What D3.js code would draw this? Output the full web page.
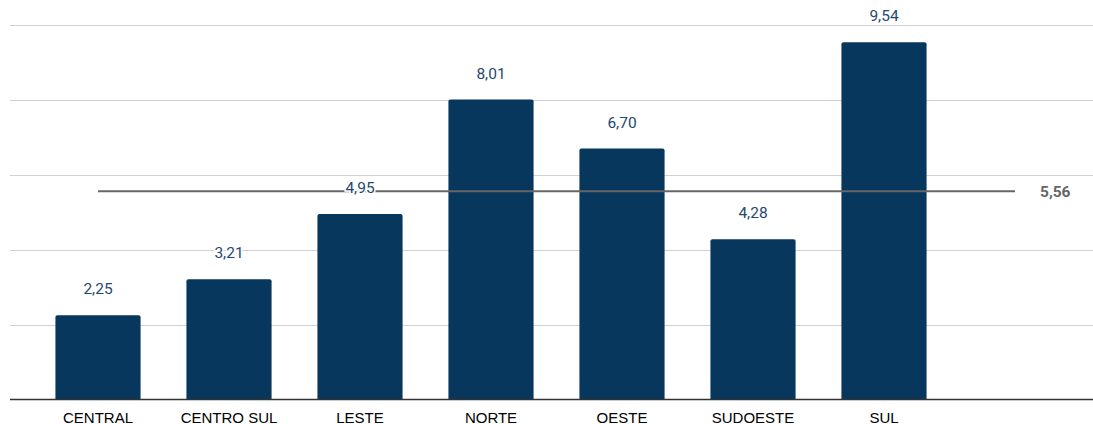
<!DOCTYPE html>
<html><head><meta charset="utf-8">
<script src="https://cdn.jsdelivr.net/npm/d3@7"></script>
<style>body{margin:0;background:#fff}svg{display:block}</style>
</head><body>
<svg id="c" width="1093" height="424"></svg>
<script>
const categories = ["CENTRAL","CENTRO SUL","LESTE","NORTE","OESTE","SUDOESTE","SUL"];
const values = [2.25, 3.21, 4.95, 8.01, 6.70, 4.28, 9.54];
const average = 5.56;
const yTicks = [0, 2, 4, 6, 8, 10];

const fmt = v => d3.format(".2f")(v).replace(".", ",");
const svg = d3.select("#c");
const slots = categories.concat(["__end"]);
const x = d3.scaleBand().domain(slots).range([32.5, 1080.5]).paddingInner(0.35).paddingOuter(0.175);
const y = d3.scaleLinear().domain([0, 10]).range([399.5, 25]);

// gridlines
svg.append("g").selectAll("line").data(yTicks.filter(d => d > 0)).join("line")
  .attr("x1", 10).attr("x2", 1093)
  .attr("y1", d => Math.round(y(d)) + 0.5).attr("y2", d => Math.round(y(d)) + 0.5)
  .attr("stroke", "#d0d0d0").attr("stroke-width", 1);

// bars
svg.append("g").selectAll("path").data(values).join("path")
  .attr("fill", "#08375e")
  .attr("d", (d, i) => {
    const x0 = x(categories[i]), w = x.bandwidth(), y0 = y(d), h = y(0) - y(d), r = 2;
    return `M${x0},${y0 + h}V${y0 + r}Q${x0},${y0} ${x0 + r},${y0}H${x0 + w - r}Q${x0 + w},${y0} ${x0 + w},${y0 + r}V${y0 + h}Z`;
  });

// baseline axis
const xAxis = d3.axisBottom(x).tickSize(0).tickFormat(d => d === "__end" ? "" : d);
const ax = svg.append("g").attr("transform", `translate(0,${y(0)})`).call(xAxis);
ax.select(".domain").remove();
ax.selectAll("text").attr("dy", null).attr("y", 23).attr("fill", "#000")
  .style("font-family", "'Liberation Sans', Arial, sans-serif").style("font-size", "15px");
svg.append("line").attr("x1", 10).attr("x2", 1093).attr("y1", y(0)).attr("y2", y(0))
  .attr("stroke", "#333").attr("stroke-width", 1.5);

// average line
const cx = c => x(c) + x.bandwidth() / 2;
svg.append("line")
  .attr("x1", cx(categories[0])).attr("x2", cx("__end"))
  .attr("y1", y(average)).attr("y2", y(average))
  .attr("stroke", "#666").attr("stroke-width", 2);

// value labels
svg.append("g").selectAll("text").data(values).join("text")
  .attr("x", (d, i) => cx(categories[i]))
  .attr("y", d => y(d) - 21)
  .attr("text-anchor", "middle")
  .attr("fill", "#1f4870")
  .attr("stroke", "#fff").attr("stroke-width", 3).attr("paint-order", "stroke")
  .style("font-family", "Roboto, sans-serif").style("font-size", "15.5px")
  .text(d => fmt(d));

// average label
svg.append("text")
  .attr("x", cx("__end") + 25).attr("y", y(average) + 5.5)
  .attr("fill", "#666").style("font-weight", "bold")
  .style("font-family", "Roboto, sans-serif").style("font-size", "15.5px")
  .text(fmt(average));
</script>
</body></html>
